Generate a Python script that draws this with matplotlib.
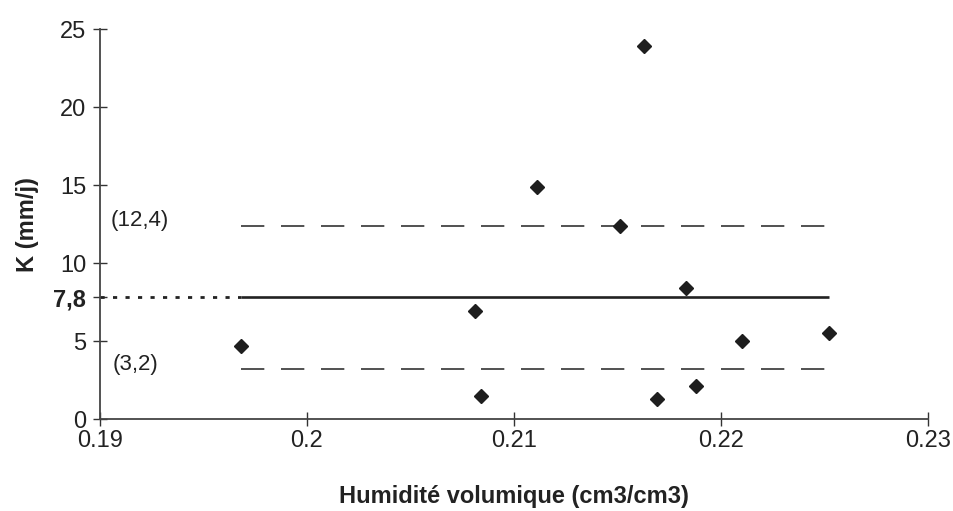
import matplotlib
matplotlib.use('Agg')
import matplotlib.pyplot as plt

plt.rcParams['font.family'] = ['Liberation Sans', 'DejaVu Sans']

# points mesures
humidite = [0.1968, 0.2081, 0.2084, 0.2111, 0.2151, 0.2163, 0.2169, 0.2183, 0.2188, 0.2210, 0.2252]
k_mmj = [4.7, 6.9, 1.5, 14.9, 12.4, 23.9, 1.3, 8.4, 2.1, 5.0, 5.5]

moyenne = 7.8
borne_haute = 12.4
borne_basse = 3.2

xticks = [0.19, 0.2, 0.21, 0.22, 0.23]
xtick_labels = ['0.19', '0.2', '0.21', '0.22', '0.23']
yticks = [0, 5, 7.8, 10, 15, 20, 25]
ytick_labels = ['0', '5', '7,8', '10', '15', '20', '25']

fig = plt.figure(figsize=(9.54, 5.11), dpi=100)
ax = fig.add_axes([0.1048, 0.180, 0.8679, 0.763])

xmin, xmax = min(humidite), max(humidite)
ax.plot([xmin, xmax], [moyenne, moyenne], color='#222222', lw=1.9, solid_capstyle='butt')
ax.plot([0.19, xmin], [moyenne, moyenne], color='#222222', lw=2, dashes=(1.5, 3))
ax.plot([xmin, xmax], [borne_haute, borne_haute], color='#333333', lw=1.2, dashes=(14, 10))
ax.plot([xmin, xmax], [borne_basse, borne_basse], color='#333333', lw=1.2, dashes=(14, 10))

ax.plot(humidite, k_mmj, 'D', color='#1e1e1e', markersize=7, linestyle='none')

ax.text(0.1905, borne_haute + 0.3, '(12,4)', fontsize=16, va='center', ha='left', color='#222222')
ax.text(0.1906, borne_basse + 0.3, '(3,2)', fontsize=16, va='center', ha='left', color='#222222')

ax.set_xlim(0.19, 0.23)
ax.set_ylim(0, 25)
ax.set_xticks(xticks)
ax.set_xticklabels(xtick_labels)
ax.set_yticks(yticks)
ax.set_yticklabels(ytick_labels)
for lab in ax.get_yticklabels():
    if lab.get_text() == '7,8':
        lab.set_fontweight('bold')

ax.tick_params(axis='both', direction='inout', length=10, width=1, colors='#333333',
               labelcolor='#222222', labelsize=17)
ax.tick_params(axis='x', pad=3)
ax.tick_params(axis='y', pad=5)

for side in ['top', 'right']:
    ax.spines[side].set_visible(False)
for side in ['left', 'bottom']:
    ax.spines[side].set_color('#444444')
    ax.spines[side].set_linewidth(1.3)

ax.set_xlabel('Humidité volumique (cm3/cm3)', fontsize=17, fontweight='bold', color='#222222', labelpad=24)
ax.set_ylabel('K (mm/j)', fontsize=17, fontweight='bold', color='#222222', labelpad=10)

fig.savefig('out.png', dpi=100)
